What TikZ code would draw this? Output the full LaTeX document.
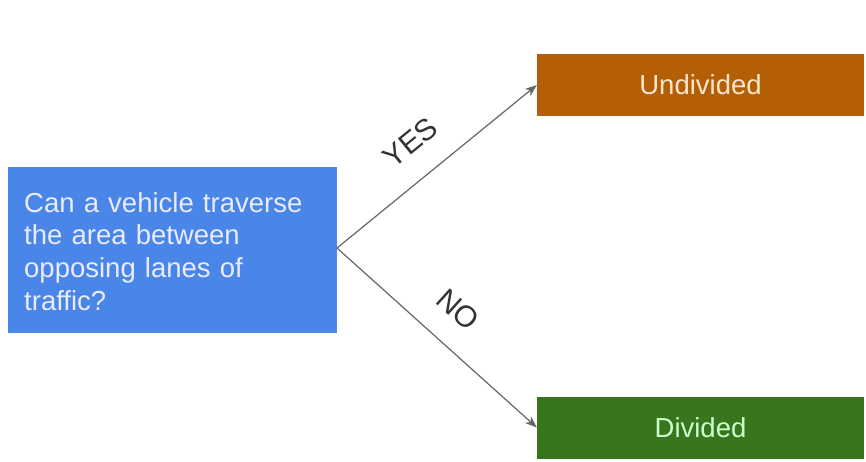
\documentclass[tikz,border=0pt]{standalone}
\usepackage{fontspec}
\setmainfont{Liberation Sans}
\usetikzlibrary{arrows.meta}
\definecolor{qblue}{HTML}{4A86E8}
\definecolor{qorange}{HTML}{B45F06}
\definecolor{qgreen}{HTML}{38761D}
\definecolor{qline}{HTML}{666666}
\tikzset{
  box/.style={draw=none, minimum width=327pt, minimum height=62pt, inner sep=0pt, font=\fontsize{27.5}{32.7}\selectfont},
  conn/.style={draw=qline, line width=1.2pt, -{Stealth[length=12pt,width=9pt]}},
  lbl/.style={font=\fontsize{30}{34}\selectfont, text=black!80, inner sep=0pt, sloped, above=24pt}
}
\begin{document}
\begin{tikzpicture}[x=1pt,y=-1pt]
\useasboundingbox[fill=white] (0,0) rectangle (866,461);
\node[fill=qblue, minimum width=329pt, minimum height=166pt, inner sep=0pt] (q) at (172.5,250) {};
\node[anchor=base west, inner sep=0pt, text width=305pt, align=left, text=white!92!blue, font=\fontsize{27.5}{32.7}\selectfont] (qt) at (24,212) {Can a vehicle traverse\\the area between\\opposing lanes of\\traffic?};
\node[box, fill=qorange, text=white!80!orange] (u) at (700.5,85) {Undivided};
\node[box, fill=qgreen, text=white!80!green] (d) at (700.5,427.5) {Divided};
\coordinate (s) at (337,248);
\draw[conn] (s) -- (u.west) node[lbl, pos=0.48] (yes) {YES};
\draw[conn] (s) -- (d.west) node[lbl, pos=0.49] (no) {NO};
\end{tikzpicture}
\end{document}
